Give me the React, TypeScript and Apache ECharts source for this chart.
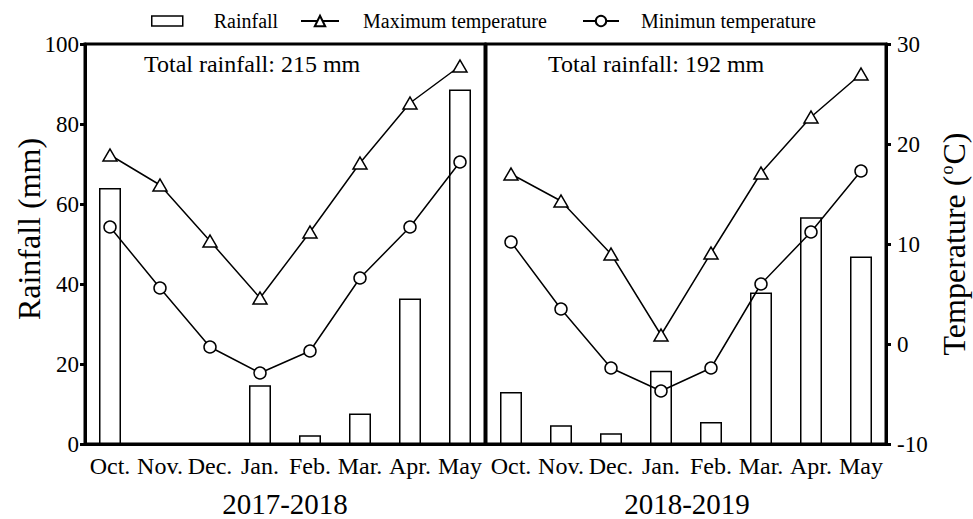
import React, { useEffect, useRef } from "react";
import * as echarts from "echarts";

const months = ["Oct.", "Nov.", "Dec.", "Jan.", "Feb.", "Mar.", "Apr.", "May"];
const rain1718 = [64, 0, 0, 14.7, 2.2, 7.6, 36.4, 88.6];
const rain1819 = [13.0, 4.7, 2.7, 18.3, 5.5, 37.9, 56.7, 46.9];
const tmax1718 = [18.9, 15.9, 10.3, 4.6, 11.2, 18.1, 24.1, 27.8];
const tmin1718 = [11.7, 5.6, -0.3, -2.9, -0.7, 6.6, 11.7, 18.2];
const tmax1819 = [17.0, 14.3, 9.0, 0.9, 9.1, 17.1, 22.7, 27.0];
const tmin1819 = [10.2, 3.5, -2.4, -4.7, -2.4, 6.0, 11.2, 17.3];
const seasons = ["2017-2018", "2018-2019"];
const totals = ["Total rainfall: 215 mm", "Total rainfall: 192 mm"];

const FONT = "'Liberation Serif', 'Times New Roman', serif";

export default function App() {
  const ref = useRef<HTMLDivElement>(null);
  useEffect(() => {
    if (!ref.current) return;
    const chart = echarts.init(ref.current, undefined, { renderer: "svg" });
    const axisLineStyle = { color: "#000", width: 3 };
    const xAxisBase = (gridIndex: number) => ({
      type: "category",
      gridIndex,
      data: months,
      axisLine: { lineStyle: axisLineStyle },
      axisTick: { alignWithLabel: true, length: 6, lineStyle: { color: "#000", width: 3 } },
      axisLabel: { interval: 0, color: "#000", fontFamily: FONT, fontSize: 24, margin: 10 },
      splitLine: { show: false },
    });
    const barSeries = (name: string, data: number[], xi: number, yi: number) => ({
      name,
      type: "bar",
      xAxisIndex: xi,
      yAxisIndex: yi,
      data,
      barWidth: 22,
      itemStyle: { color: "#fff", borderColor: "#000", borderWidth: 1.5 },
    });
    const lineSeries = (name: string, data: number[], xi: number, yi: number, symbol: string, size: any) => ({
      name,
      type: "line",
      xAxisIndex: xi,
      yAxisIndex: yi,
      data,
      symbol,
      symbolSize: size,
      color: "#000",
      lineStyle: { color: "#000", width: 1.5 },
      itemStyle: { color: "#fff", borderColor: "#000", borderWidth: 1.5 },
      z: 5,
    });
    const legendText = (padLeft: number) => ({
      color: "#000",
      fontFamily: FONT,
      fontSize: 20,
      padding: [0, 0, 0, padLeft],
    });
    chart.setOption({
      animation: false,
      backgroundColor: "#fff",
      legend: [
        {
          data: ["Rainfall"],
          left: 151,
          top: 11,
          padding: 0,
          itemWidth: 31,
          itemHeight: 10,
          icon: "rect",
          itemStyle: { color: "#fff", borderColor: "#000", borderWidth: 1.5 },
          textStyle: legendText(26),
        },
        {
          data: ["Maximum temperature"],
          left: 300,
          top: 11,
          padding: 0,
          itemWidth: 38,
          itemHeight: 13,
          textStyle: legendText(19),
        },
        {
          data: ["Minimun temperature"],
          left: 582,
          top: 11,
          padding: 0,
          itemWidth: 36,
          itemHeight: 13,
          textStyle: legendText(17),
        },
      ],
      grid: [
        { left: 85, top: 44, width: 400, height: 400, show: true, borderColor: "#000", borderWidth: 3, backgroundColor: "transparent" },
        { left: 486, top: 44, width: 400, height: 400, show: true, borderColor: "#000", borderWidth: 3, backgroundColor: "transparent" },
      ],
      xAxis: [xAxisBase(0), xAxisBase(1)],
      yAxis: [
        {
          type: "value",
          gridIndex: 0,
          min: 0,
          max: 100,
          interval: 20,
          axisLine: { show: true, lineStyle: axisLineStyle },
          axisTick: { show: true, length: 5, lineStyle: { color: "#000", width: 3 } },
          axisLabel: { color: "#000", fontFamily: FONT, fontSize: 23, margin: 6 },
          splitLine: { show: false },
        },
        { type: "value", gridIndex: 0, min: -10, max: 30, interval: 10, show: false, splitLine: { show: false } },
        { type: "value", gridIndex: 1, min: 0, max: 100, interval: 20, show: false, splitLine: { show: false } },
        {
          type: "value",
          gridIndex: 1,
          position: "right",
          min: -10,
          max: 30,
          interval: 10,
          axisLine: { show: true, lineStyle: axisLineStyle },
          axisTick: { show: true, length: 5, lineStyle: { color: "#000", width: 3 } },
          axisLabel: { color: "#000", fontFamily: FONT, fontSize: 23, margin: 11 },
          splitLine: { show: false },
        },
      ],
      series: [
        barSeries("Rainfall", rain1718, 0, 0),
        barSeries("Rainfall", rain1819, 1, 2),
        lineSeries("Maximum temperature", tmax1718, 0, 1, "triangle", [14, 12]),
        lineSeries("Minimun temperature", tmin1718, 0, 1, "circle", 12),
        lineSeries("Maximum temperature", tmax1819, 1, 3, "triangle", [14, 12]),
        lineSeries("Minimun temperature", tmin1819, 1, 3, "circle", 12),
      ],
      graphic: [
        { type: "text", left: 144, top: 52, style: { text: totals[0], font: `24px ${FONT}`, fill: "#000" } },
        { type: "text", left: 548, top: 52, style: { text: totals[1], font: `24px ${FONT}`, fill: "#000" } },
        { type: "text", x: 285, y: 504, style: { text: seasons[0], font: `29px ${FONT}`, fill: "#000", textAlign: "center", textVerticalAlign: "middle" } },
        { type: "text", x: 687, y: 504, style: { text: seasons[1], font: `29px ${FONT}`, fill: "#000", textAlign: "center", textVerticalAlign: "middle" } },
        {
          type: "text",
          x: 29,
          y: 229,
          rotation: Math.PI / 2,
          style: { text: "Rainfall (mm)", font: `32px ${FONT}`, fill: "#000", textAlign: "center", textVerticalAlign: "middle" },
        },
        {
          type: "text",
          x: 954,
          y: 244,
          rotation: Math.PI / 2,
          style: {
            text: "Temperature ({sup|o}C)",
            font: `32px ${FONT}`,
            fill: "#000",
            textAlign: "center",
            textVerticalAlign: "middle",
            rich: { sup: { fontSize: 18, fontFamily: FONT, verticalAlign: "top", padding: [0, 1, 14, 1] } },
          },
        },
      ],
    });
    return () => chart.dispose();
  }, []);
  return <div ref={ref} style={{ position: "fixed", left: 0, top: 0, width: 973, height: 519 }} />;
}
